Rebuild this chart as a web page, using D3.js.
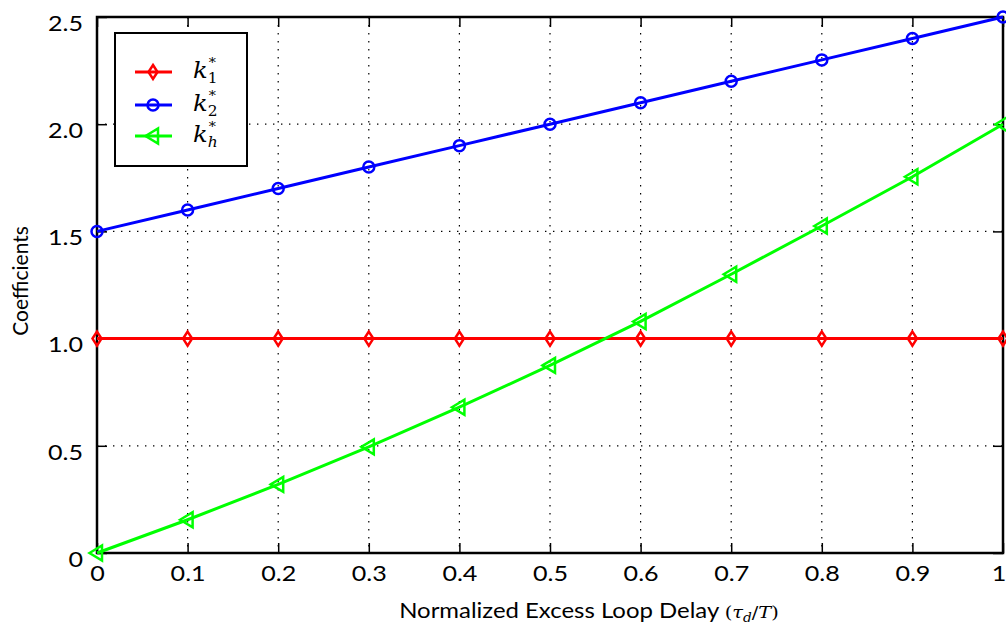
<!DOCTYPE html>
<html>
<head>
<meta charset="utf-8">
<script src="https://cdn.jsdelivr.net/npm/d3@7"></script>
<style>
	body { margin: 0; background: #fff; }
	svg { display: block; }
	text { font-family: Lato, "Open Sans", sans-serif; fill: #000; }
</style>
</head>
<body>
<svg></svg>
<script>
const SVG_WIDTH = 1006;
const SVG_HEIGHT = 628;
const LEFT = 97;
const RIGHT = 1003;
const TOP = 17;
const BOTTOM = 553;
const TICK_LEN = 10;
const STRETCH = 1.14; // the reference text is a bit wider than Lato

// data
const delays = [0, 0.1, 0.2, 0.3, 0.4, 0.5, 0.6, 0.7, 0.8, 0.9, 1.0];
const k1 = [1, 1, 1, 1, 1, 1, 1, 1, 1, 1, 1];
const k2 = [1.5, 1.6, 1.7, 1.8, 1.9, 2.0, 2.1, 2.2, 2.3, 2.4, 2.5];
const kh = [0, 0.155, 0.32, 0.495, 0.68, 0.875, 1.08, 1.3, 1.525, 1.755, 2.0];
const xTicks = [0, 0.1, 0.2, 0.3, 0.4, 0.5, 0.6, 0.7, 0.8, 0.9, 1];
const xTickLabels = ["0", "0.1", "0.2", "0.3", "0.4", "0.5", "0.6", "0.7", "0.8", "0.9", "1"];
const yTicks = [0, 0.5, 1.0, 1.5, 2.0, 2.5];
const yTickLabels = ["0", "0.5", "1.0", "1.5", "2.0", "2.5"];

const series = [
	{name: "1", values: k1, color: "#ff0000", marker: "diamond"},
	{name: "2", values: k2, color: "#0000ff", marker: "circle"},
	{name: "h", values: kh, color: "#00ff00", marker: "triangle"}
];

const svg = d3.select("svg")
	.attr("width", SVG_WIDTH)
	.attr("height", SVG_HEIGHT);

const xScale = d3.scaleLinear().domain([0, 1]).range([LEFT, RIGHT]);
const yScale = d3.scaleLinear().domain([0, 2.5]).range([BOTTOM, TOP]);

// grid
const grid = svg.append("g");
xTicks.forEach(function(t) {
	grid.append("line")
		.attr("x1", xScale(t)).attr("x2", xScale(t))
		.attr("y1", TOP).attr("y2", BOTTOM)
		.attr("stroke", "#000").attr("stroke-width", 1.2)
		.attr("stroke-dasharray", "1.4,6.6");
});
yTicks.forEach(function(t) {
	grid.append("line")
		.attr("x1", LEFT).attr("x2", RIGHT)
		.attr("y1", yScale(t)).attr("y2", yScale(t))
		.attr("stroke", "#000").attr("stroke-width", 1.2)
		.attr("stroke-dasharray", "1.4,6.6");
});

// axes, ticks pointing inward
const xAxisBottom = d3.axisBottom(xScale).tickValues(xTicks)
	.tickSize(-TICK_LEN).tickPadding(12)
	.tickFormat(function(d, i) { return xTickLabels[i]; });
const xAxisTop = d3.axisTop(xScale).tickValues(xTicks)
	.tickSize(-TICK_LEN).tickFormat("");
const yAxisLeft = d3.axisLeft(yScale).tickValues(yTicks)
	.tickSize(-TICK_LEN).tickPadding(14)
	.tickFormat(function(d, i) { return yTickLabels[i]; });
const yAxisRight = d3.axisRight(yScale).tickValues(yTicks)
	.tickSize(-TICK_LEN).tickFormat("");

function styleAxis(g) {
	g.select(".domain").remove();
	g.selectAll(".tick line").attr("stroke", "#000").attr("stroke-width", 1.5);
	g.selectAll(".tick text")
		.style("font-size", "22px").attr("fill", "#000")
		.attr("x", function() { return +d3.select(this).attr("x") / STRETCH; })
		.attr("transform", "scale(" + STRETCH + ",1)");
}

const bottomAxis = svg.append("g").attr("transform", "translate(0," + BOTTOM + ")").call(xAxisBottom).call(styleAxis);
// last label sits against the image edge
bottomAxis.selectAll(".tick text").filter(function(d) { return d == 1; })
	.attr("text-anchor", "end").attr("x", 2.5);
svg.append("g").attr("transform", "translate(0," + TOP + ")").call(xAxisTop).call(styleAxis);
svg.append("g").attr("transform", "translate(" + LEFT + ",0)").call(yAxisLeft).call(styleAxis)
	.selectAll(".tick text").attr("dy", "0.6em");
svg.append("g").attr("transform", "translate(" + RIGHT + ",0)").call(yAxisRight).call(styleAxis);

// frame
svg.append("rect")
	.attr("x", LEFT).attr("y", TOP)
	.attr("width", RIGHT - LEFT).attr("height", BOTTOM - TOP)
	.attr("fill", "none").attr("stroke", "#000").attr("stroke-width", 2.5);

// axis labels
const xLabel = svg.append("text")
	.attr("transform", "translate(589,618) scale(" + STRETCH + ",1)")
	.attr("text-anchor", "middle")
	.style("font-size", "21px");
xLabel.append("tspan").text("Normalized Excess Loop Delay ");
xLabel.append("tspan").style("font-family", "'DejaVu Serif', serif").style("font-size", "17px").text("(");
xLabel.append("tspan").style("font-family", "'DejaVu Serif', serif").style("font-style", "italic").style("font-size", "17px").text("τ");
xLabel.append("tspan").style("font-family", "'DejaVu Serif', serif").style("font-style", "italic").style("font-size", "12px").attr("dy", 4).text("d");
xLabel.append("tspan").style("font-family", "'DejaVu Serif', serif").style("font-size", "17px").attr("dy", -4).text("/");
xLabel.append("tspan").style("font-family", "'DejaVu Serif', serif").style("font-style", "italic").style("font-size", "17px").text("T");
xLabel.append("tspan").style("font-family", "'DejaVu Serif', serif").style("font-size", "17px").text(")");

svg.append("text")
	.attr("transform", "translate(28,281) rotate(-90)")
	.attr("text-anchor", "middle")
	.style("font-size", "21px")
	.text("Coefficients");

// markers
function drawMarker(g, type, x, y, color) {
	if (type == "diamond") {
		g.append("path")
			.attr("d", "M" + x + "," + (y - 7) + " L" + (x + 4.5) + "," + y + " L" + x + "," + (y + 7) + " L" + (x - 4.5) + "," + y + " Z")
			.attr("fill", "none").attr("stroke", color).attr("stroke-width", 2.5);
	}
	else if (type == "circle") {
		g.append("circle")
			.attr("cx", x).attr("cy", y).attr("r", 5.5)
			.attr("fill", "none").attr("stroke", color).attr("stroke-width", 2.5);
	}
	else {
		g.append("path")
			.attr("d", "M" + (x - 7.5) + "," + y + " L" + (x + 5) + "," + (y - 7.5) + " L" + (x + 5) + "," + (y + 7.5) + " Z")
			.attr("fill", "none").attr("stroke", color).attr("stroke-width", 2.5);
	}
}

// series
const line = d3.line()
	.x(function(d) { return xScale(d[0]); })
	.y(function(d) { return yScale(d[1]); });

const plot = svg.append("g");
series.forEach(function(s) {
	const pts = delays.map(function(x, i) { return [x, s.values[i]]; });
	plot.append("path")
		.datum(pts)
		.attr("d", line)
		.attr("fill", "none")
		.attr("stroke", s.color)
		.attr("stroke-width", 3);
	pts.forEach(function(p) {
		drawMarker(plot, s.marker, xScale(p[0]), yScale(p[1]), s.color);
	});
});

// legend
const legend = svg.append("g");
legend.append("rect")
	.attr("x", 115).attr("y", 33).attr("width", 132).attr("height", 133)
	.attr("fill", "#fff").attr("stroke", "#000").attr("stroke-width", 2);
const rowY = [72, 105, 136];
series.forEach(function(s, i) {
	legend.append("line")
		.attr("x1", 135).attr("x2", 172).attr("y1", rowY[i]).attr("y2", rowY[i])
		.attr("stroke", s.color).attr("stroke-width", 3);
	drawMarker(legend, s.marker, 153, rowY[i], s.color);
	const t = legend.append("text")
		.attr("transform", "translate(193," + (rowY[i] + 6) + ") scale(1.1,1)")
		.style("font-family", "'DejaVu Serif', serif")
		.style("font-style", "italic")
		.style("font-size", "22px");
	t.append("tspan").text("k");
	t.append("tspan").style("font-size", "14px").style("font-style", s.name == "h" ? "italic" : "normal").attr("dy", 5).text(s.name);
	t.append("tspan").style("font-size", "13px").style("font-style", "normal").attr("dx", -8).attr("dy", -16).text("*");
});
</script>
</body>
</html>
